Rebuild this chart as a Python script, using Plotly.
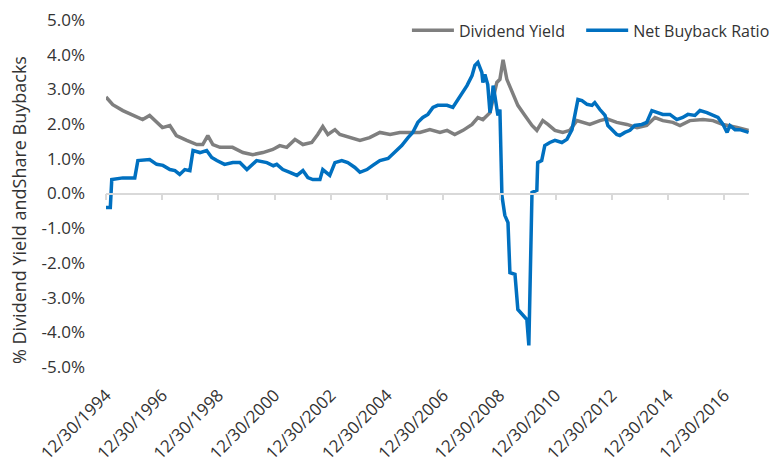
import plotly.graph_objects as go

# ---- data (percent) ----
div_dates = ["1994-12-30","1995-03-28","1995-08-06","1995-12-13","1996-04-19","1996-07-19","1996-10-19",
             "1997-01-01","1997-04-08","1997-07-01","1997-11-13","1998-03-24","1998-06-09","1998-08-14",
             "1998-10-19","1999-01-19","1999-07-01","1999-11-13","2000-03-20","2000-07-30","2000-12-06",
             "2001-03-06","2001-06-05","2001-09-20","2002-01-01","2002-04-26","2002-07-12","2002-09-16",
             "2002-11-21","2003-02-21","2003-04-26","2003-09-03","2004-01-12","2004-05-17","2004-09-27",
             "2005-02-07","2005-06-13","2005-10-22","2006-03-01","2006-07-08","2006-11-17","2007-02-17",
             "2007-05-28","2007-09-13","2008-01-08","2008-03-24","2008-05-28","2008-08-28","2008-11-25",
             "2009-01-04","2009-02-14","2009-04-04","2009-06-09","2009-08-25","2009-11-25","2010-02-25",
             "2010-04-29","2010-07-15","2010-09-20","2010-12-20","2011-04-01","2011-07-01","2011-10-01",
             "2012-03-17","2012-07-26","2012-10-26","2013-03-02","2013-07-12","2013-11-21","2014-03-27",
             "2014-07-12","2014-10-22","2015-03-02","2015-06-02","2015-10-08","2016-03-27","2016-08-03",
             "2016-12-13","2017-06-13","2017-11-10"]
div_yield = [2.78,2.56,2.39,2.25,2.13,2.25,2.05,
             1.90,1.96,1.67,1.53,1.41,1.41,1.67,
             1.41,1.33,1.33,1.18,1.12,1.18,1.27,
             1.38,1.33,1.56,1.41,1.47,1.70,1.93,
             1.70,1.84,1.70,1.61,1.53,1.61,1.76,
             1.70,1.76,1.76,1.76,1.84,1.76,1.82,
             1.70,1.82,1.99,2.19,2.13,2.33,3.20,
             3.29,3.85,3.29,2.97,2.54,2.25,1.96,
             1.82,2.10,1.99,1.82,1.76,1.82,2.10,
             1.99,2.10,2.15,2.05,1.99,1.90,1.96,
             2.19,2.10,2.05,1.96,2.10,2.13,2.10,
             1.99,1.90,1.82]

bb_dates = ["1994-12-30","1995-02-24","1995-03-15","1995-08-06","1996-01-08","1996-02-17","1996-07-19",
            "1996-10-19","1997-01-08","1997-04-08","1997-06-13","1997-08-14","1997-10-19","1997-12-24",
            "1998-02-03","1998-05-04","1998-07-30","1998-10-04","1998-12-09","1999-03-20","1999-07-05",
            "1999-10-05","2000-01-04","2000-05-10","2000-09-20","2000-12-13","2001-01-26","2001-04-15",
            "2001-07-15","2001-10-15","2002-01-01","2002-03-06","2002-05-10","2002-08-10","2002-09-16",
            "2002-12-16","2003-02-21","2003-05-21","2003-08-07","2003-11-07","2004-01-12","2004-04-12",
            "2004-06-27","2004-09-27","2005-01-12","2005-04-08","2005-07-08","2005-09-28","2005-11-28",
            "2006-02-03","2006-04-08","2006-06-13","2006-08-18","2006-10-19","2006-12-24","2007-02-17",
            "2007-05-03","2007-07-08","2007-09-13","2007-11-03","2008-01-08","2008-02-14","2008-03-24",
            "2008-05-14","2008-05-28","2008-06-23","2008-07-30","2008-08-28","2008-09-23","2008-10-08",
            "2008-10-30","2008-12-09","2009-01-04","2009-01-30","2009-03-09","2009-04-19","2009-05-14",
            "2009-07-19","2009-08-25","2009-10-30","2009-12-20","2010-01-15","2010-02-25","2010-04-29",
            "2010-05-10","2010-07-01","2010-08-10","2010-10-15","2010-12-20","2011-03-20","2011-05-25",
            "2011-07-30","2011-09-06","2011-10-15","2011-12-06","2012-02-10","2012-04-15","2012-05-21",
            "2012-07-26","2012-10-01","2012-11-07","2013-01-01","2013-03-02","2013-04-11","2013-06-16",
            "2013-08-21","2013-10-22","2014-01-22","2014-03-27","2014-06-02","2014-08-07","2014-10-22",
            "2015-01-22","2015-04-22","2015-07-08","2015-09-13","2015-12-13","2016-02-17","2016-05-17",
            "2016-08-03","2016-10-08","2016-12-13","2017-02-03","2017-03-13","2017-05-17","2017-07-19",
            "2017-11-10"]
bb_ratio = [-0.40,-0.40,0.40,0.45,0.45,0.95,0.98,
            0.84,0.81,0.69,0.66,0.55,0.69,0.66,
            1.24,1.18,1.24,1.04,0.95,0.84,0.89,
            0.89,0.69,0.95,0.89,0.80,0.84,0.69,
            0.61,0.52,0.66,0.46,0.40,0.40,0.69,
            0.52,0.89,0.95,0.89,0.75,0.61,0.69,
            0.81,0.95,1.01,1.18,1.38,1.61,1.76,
            2.05,2.19,2.28,2.48,2.54,2.54,2.54,
            2.48,2.71,2.91,3.11,3.40,3.69,3.78,
            3.49,3.20,3.43,3.14,2.33,2.71,3.11,
            2.82,2.25,2.42,-0.06,-0.63,-0.84,-2.28,
            -2.33,-3.34,-3.52,-3.63,-4.38,0.03,0.09,
            0.89,0.95,1.38,1.47,1.53,1.47,1.56,
            1.84,2.33,2.71,2.68,2.57,2.54,2.62,
            2.42,2.25,1.96,1.82,1.70,1.67,1.76,
            1.82,1.96,1.99,2.05,2.39,2.33,2.28,
            2.28,2.13,2.19,2.28,2.25,2.39,2.33,
            2.25,2.19,1.99,1.76,1.96,1.84,1.84,
            1.76]

x_ticks = ["1994-12-30","1996-12-30","1998-12-30","2000-12-30","2002-12-30","2004-12-30",
           "2006-12-30","2008-12-30","2010-12-30","2012-12-30","2014-12-30","2016-12-30"]
y_ticks = [5,4,3,2,1,0,-1,-2,-3,-4,-5]
y_ticktext = ["5.0%","4.0%","3.0%","2.0%","1.0%","0.0%","-1.0%","-2.0%","-3.0%","-4.0%","-5.0%"]
x_range = ["1994-12-30","2017-11-15"]
y_title = "% Dividend Yield andShare Buybacks"

FONT = "Open Sans"
TXT = "#333333"
AXC = "#d9d9d9"

fig = go.Figure()
fig.add_trace(go.Scatter(x=div_dates, y=div_yield, mode="lines", name="Dividend Yield",
                         line=dict(color="#7f7f7f", width=3.5), legend="legend"))
fig.add_trace(go.Scatter(x=bb_dates, y=bb_ratio, mode="lines", name="Net Buyback Ratio",
                         line=dict(color="#0070c0", width=3.5), legend="legend2"))
# helper trace so the zero-line tick axis is drawn
fig.add_trace(go.Scatter(x=div_dates[:1], y=div_yield[:1], xaxis="x2", yaxis="y", mode="lines",
                         opacity=0, showlegend=False, hoverinfo="skip"))

leg_common = dict(orientation="h", xanchor="left", y=0.97, yanchor="middle", itemwidth=42,
                  font=dict(size=16, color=TXT), bgcolor="rgba(0,0,0,0)")

# the page body has an 8px margin, so the figure is 8px smaller and margins are shifted
fig.update_layout(
    width=772, height=458,
    margin=dict(l=98, r=31, t=12, b=99, autoexpand=False),
    paper_bgcolor="white", plot_bgcolor="white",
    font=dict(family=FONT, color=TXT, size=16),
    showlegend=True,
    legend=dict(x=0.468, **leg_common),
    legend2=dict(x=0.739, **leg_common),
    xaxis=dict(type="date", range=x_range, tickvals=x_ticks, tickformat="%m/%d/%Y",
               tickangle=-45, showgrid=False, showline=False, zeroline=False, automargin=False,
               ticklabeloverflow="allow",
               ticks="", ticklabelstandoff=14, tickfont=dict(size=17, color=TXT)),
    xaxis2=dict(type="date", overlaying="x", anchor="free", position=0.5,
                range=x_range, tickvals=x_ticks, showticklabels=False, showgrid=False,
                showline=True, linecolor=AXC, linewidth=1.5, automargin=False,
                ticks="outside", ticklen=6, tickcolor=AXC, tickwidth=1.5, zeroline=False),
    yaxis=dict(range=[-5, 5], tickvals=y_ticks, ticktext=y_ticktext, showgrid=False,
               zeroline=True, zerolinecolor=AXC, zerolinewidth=1.5,
               showline=False, ticks="", ticklabelstandoff=20, automargin=False,
               ticklabeloverflow="allow",
               tickfont=dict(size=17, color=TXT)),
    annotations=[dict(text=y_title, textangle=-90, xref="paper", yref="paper",
                      x=-0.1355, y=0.452, xanchor="center", yanchor="middle",
                      showarrow=False, font=dict(size=18, color=TXT))],
)

fig.write_html("out.html")
